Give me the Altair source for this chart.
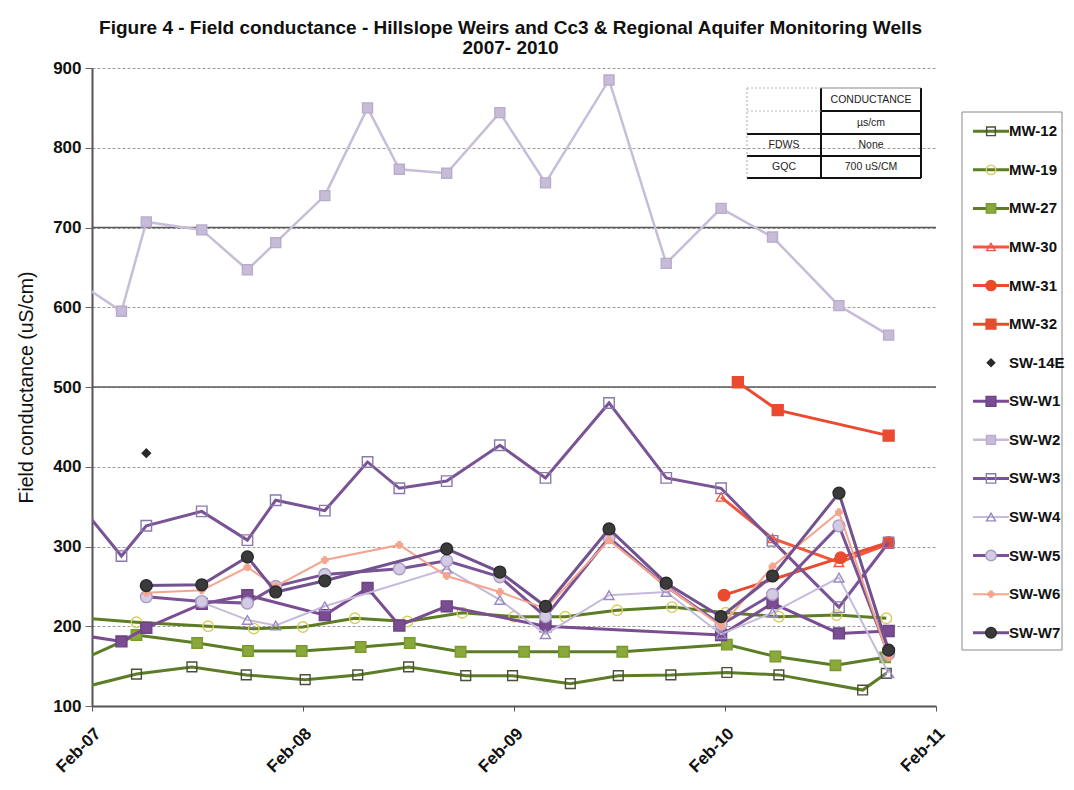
import altair as alt
import pandas as pd

SERIES = ["MW-12", "MW-19", "MW-27", "MW-30", "MW-31", "MW-32", "SW-14E",
          "SW-W1", "SW-W2", "SW-W3", "SW-W4", "SW-W5", "SW-W6", "SW-W7"]

# ---- sampling dates / values ----
SW_DATES = ["2007-01-20", "2007-03-24", "2007-05-06", "2007-08-10", "2007-10-28",
            "2007-12-16", "2008-03-10", "2008-05-23", "2008-07-17", "2008-10-07",
            "2009-01-07", "2009-03-27", "2009-07-15", "2009-10-22", "2010-01-25",
            "2010-04-24", "2010-08-17", "2010-11-11"]
SW_W1 = [188, 181, 198, 228, 239, None, 214, 248, 201, 225, None, 200, None, None, 189, 229, 191, 194]
SW_W2 = [625, 595, 707, 697, 647, 681, 740, 850, 773, 768, 844, 756, 885, 655, 724, 688, 602, 565]
SW_W3 = [344, 288, 326, 344, 308, 358, 345, 406, 373, 382, 427, 386, 480, 386, 373, 307, 224, 305]
SW_W4 = [None, None, None, 230, 208, 201, 225, None, None, 272, 233, 190, 239, 243, 190, 217, 261, 141]
SW_W5 = [None, None, 237, 231, 229, 250, 265, None, 272, 282, 262, 212, 311, 250, 202, 240, 326, 165]
SW_W6 = [None, None, 242, 245, 274, 250, 283, None, 302, 263, 243, 222, 308, 250, 200, 275, 343, 161]
SW_W7 = [None, None, 251, 252, 287, 243, 257, None, None, 297, 268, 225, 322, 254, 212, 263, 367, 170]

SW14E_DATES = ["2007-05-06"]
SW14E = [417]

MW12_DATES = ["2007-01-20", "2007-04-19", "2007-07-24", "2007-10-26", "2008-02-05",
              "2008-05-06", "2008-08-02", "2008-11-09", "2009-01-29", "2009-05-09",
              "2009-07-31", "2009-10-30", "2010-02-04", "2010-05-05", "2010-09-27",
              "2010-11-07"]
MW12 = [124, 140, 149, 139, 133, 139, 149, 138, 138, 128, 138, 139, 142, 139, 120, 141]

MW19_DATES = ["2007-01-20", "2007-04-19", "2007-08-21", "2007-11-08", "2008-02-01",
              "2008-05-01", "2008-07-31", "2008-11-03", "2009-02-01", "2009-04-30",
              "2009-07-29", "2009-11-01", "2010-02-02", "2010-05-05", "2010-08-13",
              "2010-11-07"]
MW19 = [210, 205, 200, 197, 199, 210, 206, 217, 212, 212, 220, 224, 217, 212, 214, 210]

MW27_DATES = ["2007-01-20", "2007-04-19", "2007-08-02", "2007-10-29", "2008-01-30",
              "2008-05-11", "2008-08-04", "2008-10-31", "2009-02-18", "2009-04-28",
              "2009-08-07", "2010-02-04", "2010-04-29", "2010-08-11", "2010-11-05"]
MW27 = [160, 189, 179, 169, 169, 174, 179, 168, 168, 168, 168, 177, 162, 151, 161]

MW30_DATES = ["2010-01-25", "2010-04-24", "2010-08-17", "2010-11-11"]
MW30 = [362, 310, 280, 303]
MW31_DATES = ["2010-01-30", "2010-08-20", "2010-11-11"]
MW31 = [239, 286, 305]
MW32_DATES = ["2010-02-23", "2010-05-03", "2010-11-11"]
MW32 = [506, 471, 439]

Y_TICKS = [100, 200, 300, 400, 500, 600, 700, 800, 900]
SOLID_GRID = [500, 700]
X_TICK_YEARS = [2007, 2008, 2009, 2010, 2011]

TITLE = ["Figure 4 - Field conductance - Hillslope Weirs and Cc3 & Regional Aquifer Monitoring Wells",
         "2007- 2010"]
Y_TITLE = "Field conductance (uS/cm)"
TABLE = [["", "CONDUCTANCE"], ["", "µs/cm"], ["FDWS", "None"], ["GQC", "700 uS/CM"]]

DATA = {
    "MW-12": (MW12_DATES, MW12), "MW-19": (MW19_DATES, MW19), "MW-27": (MW27_DATES, MW27),
    "MW-30": (MW30_DATES, MW30), "MW-31": (MW31_DATES, MW31), "MW-32": (MW32_DATES, MW32),
    "SW-14E": (SW14E_DATES, SW14E),
    "SW-W1": (SW_DATES, SW_W1), "SW-W2": (SW_DATES, SW_W2), "SW-W3": (SW_DATES, SW_W3),
    "SW-W4": (SW_DATES, SW_W4), "SW-W5": (SW_DATES, SW_W5), "SW-W6": (SW_DATES, SW_W6),
    "SW-W7": (SW_DATES, SW_W7),
}

rows = []
for name in SERIES:
    ds, vs = DATA[name]
    for d, v in zip(ds, vs):
        if v is not None:
            rows.append({"series": name, "date": d, "value": v})
df = pd.DataFrame(rows)

# ---- styles ----
GREEN = "#5c7c26"
RED = "#ea4a30"
PURPLE = "#7a5396"
STYLE = {
    "MW-12": dict(line=GREEN, lw=3, shape="square", size=95, fill="transparent", stroke="#4d4d3a"),
    "MW-19": dict(line=GREEN, lw=3, shape="circle", size=110, fill="transparent", stroke="#d8cc5a"),
    "MW-27": dict(line=GREEN, lw=3, shape="square", size=110, fill="#8aa83b", stroke="#7a9a30"),
    "MW-30": dict(line="#f0573c", lw=3, shape="triangle-up", size=90, fill="transparent", stroke="#f0573c"),
    "MW-31": dict(line=RED, lw=3, shape="circle", size=130, fill=RED, stroke=RED),
    "MW-32": dict(line=RED, lw=3, shape="square", size=120, fill=RED, stroke=RED),
    "SW-14E": dict(line=None, lw=0, shape="diamond", size=70, fill="#2a2a2a", stroke="#2a2a2a"),
    "SW-W1": dict(line="#7a4d92", lw=3, shape="square", size=120, fill="#7a4d92", stroke="#6b4284"),
    "SW-W2": dict(line="#c8bdd9", lw=2.5, shape="square", size=100, fill="#c6bcd8", stroke="#b8accc"),
    "SW-W3": dict(line=PURPLE, lw=3, shape="square", size=110, fill="transparent", stroke="#8a7aaa"),
    "SW-W4": dict(line="#c6badc", lw=2, shape="triangle-up", size=100, fill="transparent", stroke="#9a88c0"),
    "SW-W5": dict(line=PURPLE, lw=3, shape="circle", size=140, fill="#d3cae3", stroke="#a99bc4"),
    "SW-W6": dict(line="#f5a48e", lw=2, shape="cross", size=40, fill="#f5a48e", stroke="#f5a48e"),
    "SW-W7": dict(line="#72528e", lw=3, shape="circle", size=140, fill="#3a3a3a", stroke="#2a2a2a"),
}

FONT = "Liberation Sans"
PLOT_W, PLOT_H = 844, 638


def dt(y, m, d):
    return alt.DateTime(year=y, month=m, date=d, utc=True)


X = alt.X("date:T", title=None,
          scale=alt.Scale(type="utc", domain=[dt(2007, 2, 1), dt(2011, 2, 1)]),
          axis=alt.Axis(values=[dt(y, 2, 1) for y in X_TICK_YEARS], format="%b-%y",
                        labelAngle=-45, labelFontSize=17, labelFontWeight="bold",
                        labelColor="#111", labelPadding=14, tickSize=5, tickColor="#555",
                        domainColor="#555", domainWidth=2, grid=False))


def Y(field):
    return alt.Y(field, title=Y_TITLE,
                 scale=alt.Scale(domain=[100, 900], nice=False),
                 axis=alt.Axis(values=Y_TICKS, labelFontSize=17, labelFontWeight="bold",
                               labelColor="#111", labelPadding=4, tickSize=7, tickColor="#666",
                               domainColor="#555", domainWidth=2, grid=True,
                               gridColor="#9a9a9a", gridDash=[3, 2], gridWidth=1,
                               titleFontSize=19.5, titleFontWeight="normal", titleColor="#111",
                               titlePadding=16))


base = alt.Chart(df)
layers = [alt.Chart(pd.DataFrame({"v": SOLID_GRID})).mark_rule(color="#5a5a5a", strokeWidth=1.3)
          .encode(y=Y("v:Q"))]
for name in SERIES:
    st = STYLE[name]
    sub = base.transform_filter(alt.datum.series == name)
    if st["line"]:
        layers.append(sub.mark_line(clip=True, color=st["line"], strokeWidth=st["lw"])
                      .encode(x=X, y=Y("value:Q")))
    layers.append(sub.mark_point(clip=True, filled=True, shape=st["shape"], size=st["size"],
                                 fill=st["fill"], stroke=st["stroke"], strokeWidth=1.4,
                                 opacity=1, fillOpacity=1)
                  .encode(x=X, y=Y("value:Q")))

# ---- inset table (annotation, pixel placed inside plot) ----
ONE = alt.Data(values=[{"k": 1}])
TX0, TX1, TX2 = 655, 729, 829
TY = [20, 43, 66, 88, 110]


def prule(x1, y1, x2, y2, color="#111", width=2.0, dash=None):
    kw = dict(color=color, strokeWidth=width)
    if dash:
        kw["strokeDash"] = dash
    return alt.Chart(ONE).mark_rule(**kw).encode(
        x=alt.value(x1), x2=alt.value(x2), y=alt.value(y1), y2=alt.value(y2))


table_layers = [
    prule(TX1, TY[0], TX1, TY[4]), prule(TX2, TY[0], TX2, TY[4]),
    prule(TX1, TY[0], TX2, TY[0], color="#888", width=1),
    prule(TX1, TY[1], TX2, TY[1]),
    prule(TX0, TY[2], TX2, TY[2]), prule(TX0, TY[3], TX2, TY[3]), prule(TX0, TY[4], TX2, TY[4]),
    prule(TX0, TY[0], TX0, TY[4], color="#aaa", width=1, dash=[2, 2]),
    prule(TX0, TY[0], TX1, TY[0], color="#bbb", width=1, dash=[2, 2]),
    prule(TX0, TY[1], TX1, TY[1], color="#bbb", width=1, dash=[2, 2]),
]
for r, (c1, c2) in enumerate(TABLE):
    cy = (TY[r] + TY[r + 1]) / 2
    for txt, cx in ((c1, (TX0 + TX1) / 2), (c2, (TX1 + TX2) / 2)):
        if txt:
            table_layers.append(
                alt.Chart(ONE).mark_text(font=FONT, fontSize=10.5, color="#222",
                                         align="center", baseline="middle")
                .encode(x=alt.value(cx), y=alt.value(cy), text=alt.value(txt)))

main = alt.layer(*layers, *table_layers).properties(width=PLOT_W, height=PLOT_H)

# ---- legend panel ----
LEG_W = 100
leg_df = pd.DataFrame({"series": SERIES})
LY = alt.Y("series:N", sort=SERIES, axis=None,
           scale=alt.Scale(domain=SERIES, range=[44, 584]))
leg_layers = [alt.Chart(ONE).mark_rect(fill="white", fillOpacity=0, stroke="#8a8a8a",
                                       strokeWidth=1)
              .encode(x=alt.value(0), x2=alt.value(LEG_W), y=alt.value(44), y2=alt.value(582))]
lbase = alt.Chart(leg_df)
for name in SERIES:
    st = STYLE[name]
    sub = lbase.transform_filter(alt.datum.series == name)
    if st["line"]:
        leg_layers.append(sub.mark_rule(color=st["line"], strokeWidth=st["lw"])
                          .encode(x=alt.value(11), x2=alt.value(47), y=LY))
    leg_layers.append(sub.mark_point(filled=True, shape=st["shape"], size=st["size"] * 0.8,
                                     fill=st["fill"], stroke=st["stroke"], strokeWidth=1.4,
                                     opacity=1, fillOpacity=1)
                      .encode(x=alt.value(29), y=LY))
leg_layers.append(lbase.mark_text(font=FONT, fontSize=15, fontWeight="bold", color="#111",
                                  align="left", baseline="middle")
                  .encode(x=alt.value(47), y=LY, text="series:N"))
legend = alt.layer(*leg_layers).properties(width=LEG_W, height=PLOT_H)

chart = alt.hconcat(main, legend, spacing=26, bounds="flush").properties(
    title=alt.TitleParams(TITLE, font=FONT, fontSize=19, fontWeight="bold", color="#111",
                          anchor="middle", dx=-30, offset=1, lineHeight=20),
    padding={"left": 8, "top": 11, "right": 0, "bottom": 5},
).configure(font=FONT).configure_view(strokeWidth=0)

chart.save("out.html", embed_options={"renderer": "svg", "actions": False})
